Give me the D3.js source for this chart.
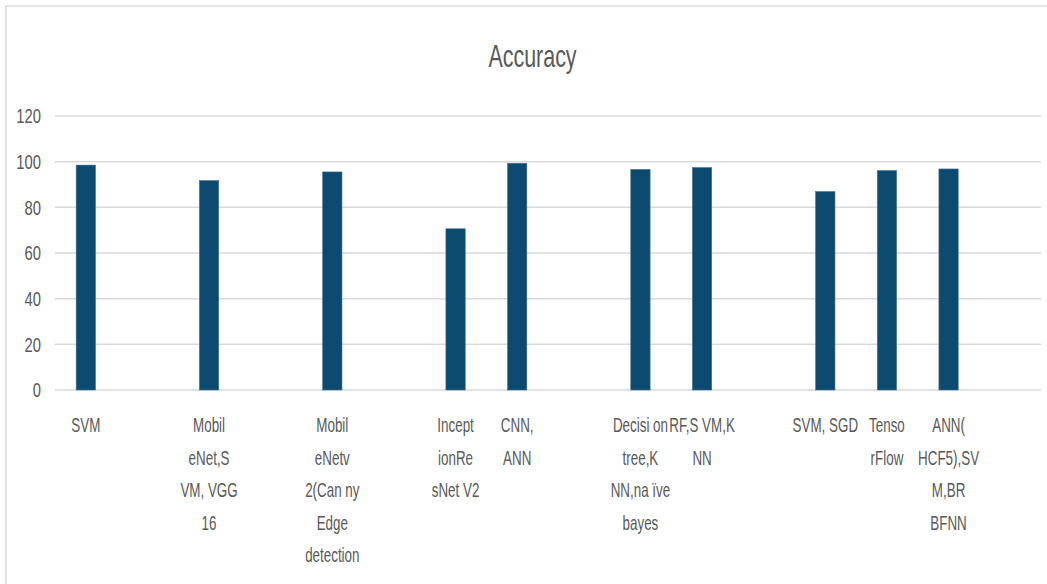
<!DOCTYPE html>
<html>
<head>
<meta charset="utf-8">
<script src="https://cdn.jsdelivr.net/npm/d3@7"></script>
<style>
  body { margin: 0; background: #fff; }
  text { font-family: "Liberation Sans Narrow", "Arial Narrow", "Liberation Sans", sans-serif; fill: #595959; }
</style>
</head>
<body>
<div class="container"></div>
<script>
// categories as shown (Excel wrapped them, blank slots are empty rows)
var categories = [
  "SVM", "",
  "Mobil\neNet,S\nVM, VGG\n16", "",
  "Mobil\neNetv\n2(Can ny\nEdge\ndetection", "",
  "Incept\nionRe\nsNet V2",
  "CNN,\nANN", "",
  "Decisi on\ntree,K\nNN,na ïve\nbayes",
  "RF,S VM,K\nNN", "",
  "SVM, SGD",
  "Tenso\nrFlow",
  "ANN(\nHCF5),SV\nM,BR\nBFNN", ""
];
var accuracy = [98.5, null, 91.7, null, 95.5, null, 70.6, 99.3, null, 96.6, 97.4, null, 86.9, 96.1, 96.8, null];
var yTicks = [0, 20, 40, 60, 80, 100, 120];

const WIDTH = 1047;
const HEIGHT = 584;
const LEFT = 55, RIGHT = 1041, TOP = 116, BOTTOM = 390;
const SQUEEZE = 0.67;      // reference font is a condensed face
const TICK_SQUEEZE = 0.74;

var translate = function (x, y) {
  return "translate(" + x + "," + y + ")";
};

var svg = d3.select('.container').append('svg')
  .attr('width', WIDTH)
  .attr('height', HEIGHT);

svg.append('rect')
  .attr('x', 6).attr('y', 6)
  .attr('width', WIDTH + 20).attr('height', HEIGHT + 20)
  .attr('fill', '#fff')
  .attr('stroke', '#d9d9d9')
  .attr('stroke-width', 1.5);

var xScale = d3.scaleBand()
  .domain(d3.range(categories.length))
  .range([LEFT, RIGHT])
  .paddingInner(0.687)
  .paddingOuter(0.687 / 2);

var yScale = d3.scaleLinear()
  .domain([0, 120])
  .range([BOTTOM, TOP]);

// gridlines
svg.append('g').selectAll('line')
  .data(yTicks)
  .enter().append('line')
  .attr('x1', LEFT).attr('x2', RIGHT)
  .attr('y1', function (d) { return yScale(d); })
  .attr('y2', function (d) { return yScale(d); })
  .attr('stroke', '#d9d9d9')
  .attr('stroke-width', 1.5);

// y tick labels
svg.append('g').selectAll('text')
  .data(yTicks)
  .enter().append('text')
  .attr('transform', function (d) { return translate(41, yScale(d)) + " scale(" + TICK_SQUEEZE + ",1)"; })
  .attr('dy', '0.36em')
  .attr('text-anchor', 'end')
  .attr('font-size', 20)
  .text(function (d) { return d; });

// bars
svg.append('g').selectAll('rect')
  .data(accuracy.map(function (v, i) { return { i: i, v: v }; }).filter(function (d) { return d.v != null; }))
  .enter().append('rect')
  .attr('x', function (d) { return xScale(d.i); })
  .attr('width', xScale.bandwidth())
  .attr('y', function (d) { return yScale(d.v); })
  .attr('height', function (d) { return yScale(0) - yScale(d.v); })
  .attr('fill', '#0d4a6f')
  .attr('stroke', '#3d6f8e')
  .attr('stroke-width', 0.6);

// category labels
var labels = svg.append('g').selectAll('g')
  .data(categories)
  .enter().append('g')
  .attr('transform', function (d, i) { return translate(xScale(i) + xScale.bandwidth() / 2, 0); });

labels.selectAll('text')
  .data(function (d) { return d ? d.split("\n") : []; })
  .enter().append('text')
  .attr('transform', function (d, j) { return translate(0, 432 + j * 32.6) + " scale(" + SQUEEZE + ",1)"; })
  .attr('text-anchor', 'middle')
  .attr('font-size', 20)
  .text(function (d) { return d; });

// title
svg.append('text')
  .attr('transform', translate(532.5, 66.7) + " scale(" + SQUEEZE + ",1)")
  .attr('text-anchor', 'middle')
  .attr('font-size', 32)
  .text('Accuracy');
</script>
</body>
</html>
